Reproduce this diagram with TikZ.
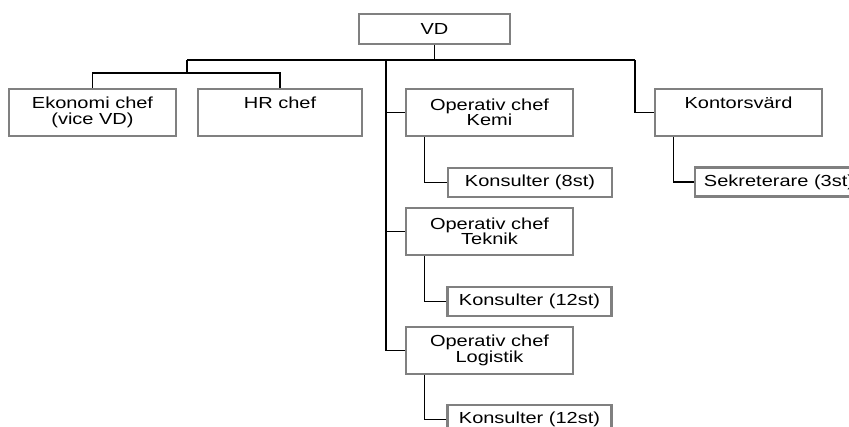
\documentclass[tikz,border=0pt]{standalone}
\usepackage{fontspec}
\setmainfont[FakeStretch=1.25]{Liberation Sans}
\usetikzlibrary{backgrounds}
\definecolor{boxgray}{RGB}{128,128,128}
\begin{document}
\begin{tikzpicture}[x=1pt,y=-1pt,
  box/.style={draw=boxgray, line width=2.8pt, fill=white, inner sep=0pt,
    align=center, font=\fontsize{16}{15.5}\selectfont},
  tall/.style={box, minimum width=167pt, minimum height=47pt},
  small/.style={box, minimum width=164pt, minimum height=29pt},
  conn/.style={draw=black, line width=1.4pt}]
\useasboundingbox (0,0) rectangle (849,427);
\clip (0,0) rectangle (849,427);

\coordinate (busL) at (187,60);
\coordinate (busR) at (635,60);
\coordinate (spine) at (386,60);
\coordinate (sub) at (187,73);

\node[box, minimum width=151pt, minimum height=30pt] (vd) at (434.5,29) {VD};
\node[tall] (eko) at (92.5,112.5) {Ekonomi chef\\(vice VD)};
\node[tall, minimum width=164pt] (hr) at (280,112.5) {HR chef\\\strut};
\node[tall] (kemi) at (489.5,112.5) {Operativ chef\\Kemi};
\node[small] (k8) at (530,182.5) {Konsulter (8st)};
\node[tall] (kont) at (738.5,112.5) {Kontorsvärd\\\strut};
\node[small, minimum width=168pt] (sek) at (779,182) {Sekreterare (3st)};
\node[tall] (tek) at (489.5,231.5) {Operativ chef\\Teknik};
\node[small] (k12a) at (529.5,301.5) {Konsulter (12st)};
\node[tall] (log) at (489.5,350.5) {Operativ chef\\Logistik};
\node[small] (k12b) at (529.5,419.5) {Konsulter (12st)};

\begin{scope}[on background layer]
\path[conn] (vd.south) -- (vd.south |- busL);
\path[conn] (busL) -- (busR);
\path[conn] (busL) -- (sub);
\path[conn] (eko.north) |- (sub) -| (hr.north);
\path[conn] (spine) |- (kemi.west);
\path[conn] (spine) |- (tek.west);
\path[conn] (spine) |- (log.west);
\path[conn] (busR) |- (kont.west);
\path[conn] ([xshift=20pt]kemi.south west) |- (k8.west);
\path[conn] ([xshift=20pt]tek.south west) |- (k12a.west);
\path[conn] ([xshift=20pt]log.south west) |- (k12b.west);
\path[conn] ([xshift=20pt]kont.south west) |- (sek.west);
\end{scope}
\end{tikzpicture}
\end{document}
